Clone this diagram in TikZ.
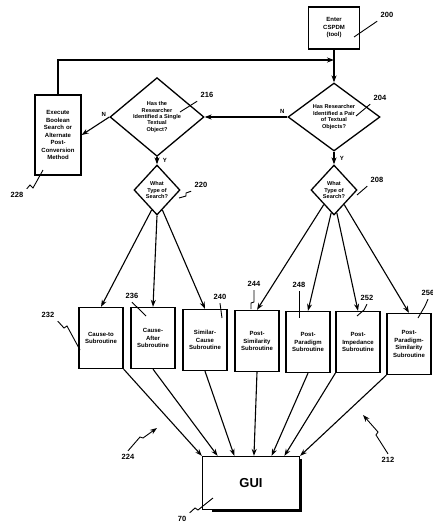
\documentclass[tikz,border=0pt]{standalone}
\usepackage{fontspec}
\setmainfont{Liberation Sans}
\usetikzlibrary{shapes.geometric, arrows.meta, positioning, calc}

\tikzset{
  flowbox/.style={draw, line width=1.3pt, minimum width=44pt, minimum height=61pt, inner sep=1pt, align=center, text width=42pt, font=\fontsize{6}{7.5}\selectfont\bfseries},
  decision/.style={draw, diamond, line width=1.3pt, inner sep=0pt, align=center, font=\fontsize{5.6}{6.4}\selectfont\bfseries},
  flowarrow/.style={-{Stealth[length=7pt,width=5pt]}, line width=1.1pt},
  refnum/.style={font=\fontsize{7.5}{8}\selectfont\bfseries},
  leader/.style={line width=0.9pt},
  branch/.style={font=\fontsize{6}{6}\selectfont\bfseries}
}

\begin{document}
\begin{tikzpicture}[x=1pt, y=-1pt]
  \useasboundingbox (0,0) rectangle (433,525);

  % ===== 上部：入口与判断 =====
  \node[flowbox, minimum width=51pt, minimum height=42pt, text width=46pt] (enter) at (334,28) {Enter\\CSPDM\\(tool)};
  \node[decision, minimum width=92pt, minimum height=68pt] (d204) at (334,117) {Has Researcher\\Identified a Pair\\of Textual\\Objects?};
  \node[decision, minimum width=94pt, minimum height=62pt] (d216) at (157,117) {Has the\\Researcher\\Identified a Single\\Textual\\Object?};
  \node[flowbox, minimum width=46pt, minimum height=80pt, text width=44pt] (exec) at (58,135) {Execute\\Boolean\\Search or\\Alternate\\Post-\\Conversion\\Method};
  \node[decision, minimum width=46pt, minimum height=50pt] (d220) at (157,190) {What\\Type of\\Search?};
  \node[decision, minimum width=46pt, minimum height=50pt] (d208) at (334,190) {What\\Type of\\Search?};

  % 回路
  \coordinate (join) at (334,60);
  \draw[flowarrow] (enter.south) -- (d204.north);
  \draw[flowarrow] (exec.north) |- (join);

  % 分支
  \draw[flowarrow] (d204.west) -- (d216.east) node[branch, pos=0.06, above] {N};
  \draw[flowarrow] (d216.west) -- (exec.east) node[branch, pos=0.2, above] {N};
  \draw[flowarrow] (d216.south) -- (d220.north) node[branch, midway, right=2pt] {Y};
  \draw[flowarrow] (d204.south) -- (d208.north) node[branch, midway, right=2pt] {Y};

  % ===== 子程序 =====
  \node[flowbox] (b232) at (101,338) {Cause-to\\Subroutine};
  \node[flowbox] (b236) at (153,338) {Cause-\\After\\Subroutine};
  \node[flowbox] (b240) at (205,340) {Similar-\\Cause\\Subroutine};
  \node[flowbox] (b244) at (257,341) {Post-\\Similarity\\Subroutine};
  \node[flowbox] (b248) at (308,342) {Post-\\Paradigm\\Subroutine};
  \node[flowbox] (b252) at (358,342) {Post-\\Impedance\\Subroutine};
  \node[flowbox] (b256) at (409,344) {Post-\\Paradigm-\\Similarity\\Subroutine};

  \draw[flowarrow] (d220.-105) -- (b232.north);
  \draw[flowarrow] (d220.south) -- (b236.north);
  \draw[flowarrow] (d220.-75) -- (b240.north);
  \draw[flowarrow] (d208.-125) -- (b244.north);
  \draw[flowarrow] (d208.-97) -- (b248.north);
  \draw[flowarrow] (d208.-83) -- (b252.north);
  \draw[flowarrow] (d208.-55) -- (b256.north);

  % ===== GUI =====
  \node[draw, line width=1.3pt, minimum width=97pt, minimum height=53pt, font=\fontsize{13}{14}\selectfont\bfseries] (gui) at (251,483) {GUI};
  \draw[line width=2.6pt] ($(gui.north east)+(0.5,3)$) -- ($(gui.south east)+(0.5,0.5)$) -- ($(gui.south west)+(10,0.5)$);

  \draw[flowarrow] (b232.south east) -- ($(gui.north west)!0.0!(gui.north east)$);
  \draw[flowarrow] (b236.south) -- ($(gui.north west)!0.16!(gui.north east)$);
  \draw[flowarrow] (b240.south) -- ($(gui.north west)!0.33!(gui.north east)$);
  \draw[flowarrow] (b244.south) -- ($(gui.north west)!0.53!(gui.north east)$);
  \draw[flowarrow] (b248.south) -- ($(gui.north west)!0.71!(gui.north east)$);
  \draw[flowarrow] (b252.south west) -- ($(gui.north west)!0.84!(gui.north east)$);
  \draw[flowarrow] (b256.south west) -- ($(gui.north west)!1.0!(gui.north east)$);

  % ===== 标号 =====
  \node[refnum] (n200) at (387,15) {200};
  \draw[leader] (354,37) -- (n200.south west);
  \node[refnum] (n204) at (380,98) {204};
  \draw[leader] (356,116) -- (n204.south west);
  \node[refnum] (n216) at (207,95) {216};
  \draw[leader] (180,112) -- (n216.south west);
  \node[refnum] (n220) at (201,185) {220};
  \draw[leader] (179,198) -- (186,196) -- (186,193) -- (n220.south west);
  \node[refnum] (n208) at (377,180) {208};
  \draw[leader] (357,195) -- (n208.south west);
  \node[refnum] (n228) at (17,195) {228};
  \draw[leader] (n228.north east) -- (30,185) -- (33,188) -- (43,170);
  \node[refnum] (n232) at (48,315) {232};
  \draw[leader] (n232.south east) -- (64,328) -- (67,326) -- (80,350);
  \node[refnum] (n236) at (132,296) {236};
  \draw[leader] (n236.south) -- (146,316);
  \node[refnum] (n240) at (220,297) {240};
  \draw[leader] (n240.south) -- (222,318);
  \node[refnum] (n244) at (254,284) {244};
  \draw[leader] (n244.south) -- (254,302) -- (251,303) -- (251,309);
  \node[refnum] (n248) at (299,285) {248};
  \draw[leader] (n248.south) -- (299,318);
  \node[refnum] (n252) at (367,298) {252};
  \draw[leader] (n252.south) -- (364,310) -- (357,316);
  \node[refnum] (n256) at (428,293) {256};
  \draw[leader] (n256.south) -- (425,306) -- (418,318);
  \node[refnum] (n224) at (128,457) {224};
  \draw[leader, -{Stealth[length=7pt,width=5pt]}] (n224.north) -- (140,437) -- (143,438) -- (157,428);
  \node[refnum] (n212) at (388,460) {212};
  \draw[leader, -{Stealth[length=7pt,width=5pt]}] (n212.north) -- (376,435) -- (378,432) -- (363,415);
  \node[refnum] (n70) at (182,519) {70};
  \draw[leader] (n70.north east) -- (195,508) -- (198,510) -- (213,498);
\end{tikzpicture}
\end{document}
